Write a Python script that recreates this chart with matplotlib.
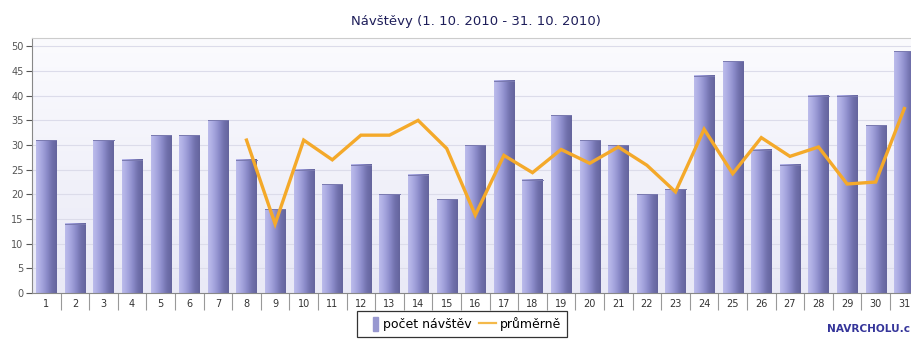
import numpy as np
import matplotlib
matplotlib.use("Agg")
import matplotlib.pyplot as plt
from matplotlib.colors import LinearSegmentedColormap
from matplotlib.patches import Patch, Rectangle
from matplotlib.lines import Line2D
from matplotlib.legend_handler import HandlerPatch

plt.rcParams['font.family'] = ['DejaVu Sans']

days = list(range(1, 32))
visits = [31, 14, 31, 27, 32, 32, 35, 27, 17, 25, 22, 26, 20, 24, 19, 30,
          43, 23, 36, 31, 30, 20, 21, 44, 47, 29, 26, 40, 40, 34, 49]
avg_days = list(range(8, 32))
average = [31, 14, 31, 27, 32, 32, 35, 29.3, 15.8, 27.9, 24.4, 29.1, 26.3,
           29.6, 25.9, 20.5, 33.2, 24.2, 31.5, 27.7, 29.6, 22.1, 22.5, 37.4]

title = "Návštěvy (1. 10. 2010 - 31. 10. 2010)"
bar_label = "počet návštěv"
line_label = "průměrně"
brand = "NAVRCHOLU.c"

W, H = 912, 343
fig = plt.figure(figsize=(W / 100, H / 100), dpi=100)
fig.patch.set_facecolor("white")

left_px, right_px, top_px, bottom_px = 32, 918.6, 38, 293
ax = fig.add_axes([left_px / W, (H - bottom_px) / H,
                   (right_px - left_px) / W, (bottom_px - top_px) / H])

ymax = 51.7
xlo, xhi = 0.5, 31.5

# plot-area background: soft vertical lavender gradient
bg = LinearSegmentedColormap.from_list("bg", ["#e9e9f6", "#fbfbfe"])
ax.imshow(np.linspace(0, 1, 256).reshape(-1, 1), cmap=bg, origin="lower",
          extent=[xlo, xhi, 0, ymax], aspect="auto", zorder=0)

# horizontal grid
for y in range(5, 51, 5):
    ax.axhline(y, color="#dcdcea", lw=0.8, zorder=1)

# cylindrical bars
bar_cmap = LinearSegmentedColormap.from_list(
    "bar", ["#bcbcec", "#a8a8e0", "#8e8ecc", "#7272ae", "#64649c"])
grad = np.linspace(0, 1, 64).reshape(1, -1)
bw = 0.7
for d, v in zip(days, visits):
    ax.imshow(grad, cmap=bar_cmap, extent=[d - bw / 2, d + bw / 2, 0, v],
              aspect="auto", zorder=2, interpolation="bicubic")
    ax.plot([d - bw / 2, d + bw / 2], [v, v], color="#7a7ab0", lw=0.7,
            zorder=3)

# moving average line
ax.plot(avg_days, average, color="#f4a92a", lw=2.4, zorder=4,
        solid_joinstyle="miter")

ax.set_xlim(xlo, xhi)
ax.set_ylim(0, ymax)
ax.set_aspect("auto")

ax.set_yticks(range(0, 51, 5))
ax.tick_params(axis="y", labelsize=7, colors="#555555", length=4, width=0.8,
               pad=2)
ax.set_xticks(days)
ax.set_xticklabels([str(d) for d in days])
ax.set_xticks(np.arange(1.5, 31.5, 1), minor=True)
ax.tick_params(axis="x", which="major", length=0, labelsize=7,
               labelcolor="#333333", pad=4)
ax.tick_params(axis="x", which="minor", length=12, width=0.8,
               color="#999999")

ax.spines["right"].set_visible(False)
ax.spines["top"].set_color("#cccccc")
ax.spines["top"].set_linewidth(0.8)
ax.spines["left"].set_color("#888888")
ax.spines["bottom"].set_color("#888888")

fig.text(476 / W, 1 - 22 / H, title, ha="center", va="center",
         fontsize=9.5, color="#1e1e5a")


def narrow_bar(legend, orig_handle, xdescent, ydescent, width, height,
               fontsize):
    w = width * 0.3
    return Rectangle((width - w - xdescent - 1, -ydescent - 1), w,
                     height + 2)


handles = [Patch(facecolor="#9898d0", edgecolor="#9898d0"),
           Line2D([0], [0], color="#f4b94a", lw=1.6)]
leg = fig.legend(handles, [bar_label, line_label], loc="upper center",
                 bbox_to_anchor=(462 / W, 1 - 311 / H), ncol=2,
                 frameon=True, fancybox=False, fontsize=9,
                 handlelength=1.3, handleheight=1.0, handletextpad=0.3,
                 columnspacing=0.6, borderpad=0.5, borderaxespad=0,
                 handler_map={Patch: HandlerPatch(patch_func=narrow_bar)})
leg.get_frame().set_edgecolor("black")
leg.get_frame().set_linewidth(0.9)

fig.text(910 / W, 1 - 329 / H, brand, ha="right", va="center",
         fontsize=7.6, fontweight="bold", color="#35359a")

fig.savefig("out.png", dpi=100)
